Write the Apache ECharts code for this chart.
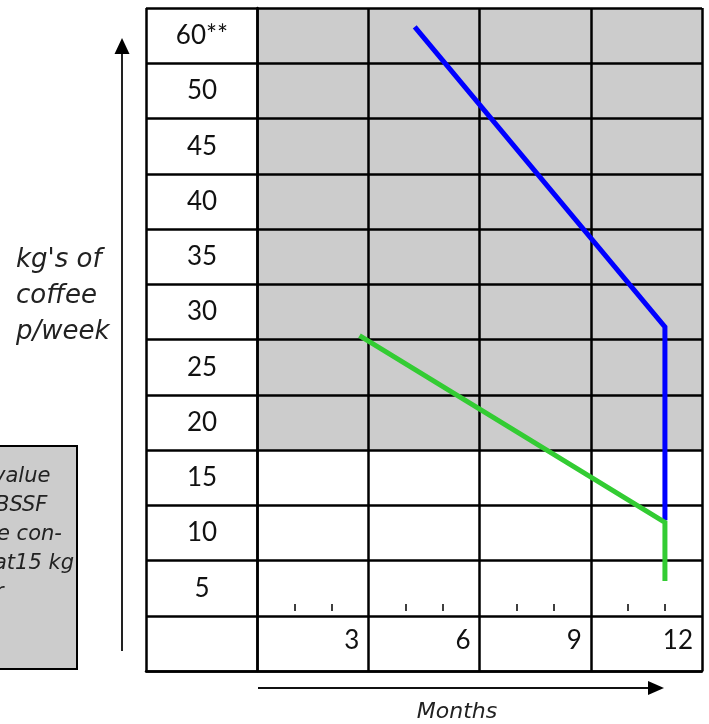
<!DOCTYPE html>
<html>
<head>
<meta charset="utf-8">
<script src="https://cdn.jsdelivr.net/npm/echarts@6/dist/echarts.min.js"></script>
<style>
  html, body { margin: 0; padding: 0; background: #ffffff; }
  #chart { width: 709px; height: 724px; }
</style>
</head>
<body>
<div id="chart"></div>
<script>
// ---- data (y values are in table-row units: row index from the bottom + fraction within the row) ----
const rowLabels = ['', '5', '10', '15', '20', '25', '30', '35', '40', '45', '50', '60**']; // bottom -> top
const monthLabels = [3, 6, 9, 12];
const minorMonthTicks = [1, 2, 4, 5, 7, 8, 10, 11];
const blueLine = [[4.25, 11.66], [11, 6.23], [11, 2.73]];
const greenLine = [[2.76, 6.07], [11, 2.69], [11, 1.63]];
const shadedFromLabel = '20';
const noteLines = ['value', 'BSSF', 'e con-', 'at15 kg', 'r'];
const yTitleLines = ["kg's of", 'coffee', 'p/week'];
const xTitle = 'Months';

const numFont = 'Lato';
const itFont = 'DejaVu Sans';
const black = '#000000';
const lw = 2.5;

const shadedFrom = rowLabels.indexOf(shadedFromLabel);

const chart = echarts.init(document.getElementById('chart'), null, { renderer: 'canvas' });

const noteGraphics = noteLines.map((t, i) => ({
  type: 'text', z: 10,
  style: { text: t, x: [-7, -5, -3, -6, -5][i], y: 477 + i * 29, fill: '#222', font: 'italic 21px "' + itFont + '"', verticalAlign: 'middle', textAlign: 'left' }
}));

const option = {
  backgroundColor: '#ffffff',
  animation: false,
  grid: { left: 146, top: 8, width: 556, height: 663, containLabel: false },
  xAxis: [
    {
      type: 'value', min: -3, max: 12, interval: 3, position: 'bottom', z: 3,
      axisLine: { show: true, onZero: false, lineStyle: { color: black, width: lw } },
      axisTick: { show: false },
      splitLine: { show: true, lineStyle: { color: black, width: lw } },
      axisLabel: {
        show: true, inside: true, margin: 30, align: 'right', verticalAlign: 'middle',
        padding: [0, 9, 0, 0], color: '#111', fontSize: 26, fontFamily: numFont,
        showMinLabel: false, showMaxLabel: true,
        formatter: v => (monthLabels.indexOf(v) >= 0 ? String(v) : '')
      }
    },
    {
      type: 'value', min: -3, max: 12, position: 'bottom', offset: -60, z: 3,
      axisLine: { show: false },
      axisLabel: { show: false },
      splitLine: { show: false },
      axisTick: { show: true, inside: true, length: 7, customValues: minorMonthTicks, lineStyle: { color: black, width: 1.5 } }
    }
  ],
  yAxis: [
    {
      type: 'category', data: rowLabels, boundaryGap: true, z: 3,
      axisLine: { show: true, lineStyle: { color: black, width: lw } },
      axisTick: { show: false },
      splitLine: { show: true, interval: 0, lineStyle: { color: black, width: lw } },
      axisLabel: {
        show: true, inside: true, interval: 0, margin: 56, align: 'center', verticalAlign: 'middle',
        color: '#111', fontSize: 26, fontFamily: numFont
      }
    },
    { type: 'value', min: 0, max: rowLabels.length, show: false }
  ],
  series: [
    {
      type: 'line', xAxisIndex: 0, yAxisIndex: 1, data: [], z: 1, silent: true,
      markArea: {
        silent: true,
        itemStyle: { color: '#cccccc' },
        data: [[{ xAxis: 0, yAxis: shadedFrom }, { xAxis: 12, yAxis: rowLabels.length }]]
      }
    },
    {
      name: 'blue', type: 'line', xAxisIndex: 0, yAxisIndex: 1, data: blueLine, z: 5,
      symbol: 'none', lineStyle: { color: '#0000ff', width: 5, cap: 'butt', join: 'miter' }
    },
    {
      name: 'green', type: 'line', xAxisIndex: 0, yAxisIndex: 1, data: greenLine, z: 5,
      symbol: 'none', lineStyle: { color: '#33cc33', width: 5, cap: 'butt', join: 'miter' }
    }
  ],
  graphic: [
    // vertical arrow
    { type: 'line', z: 10, shape: { x1: 122, y1: 651, x2: 122, y2: 52 }, style: { stroke: '#222', lineWidth: 2 } },
    { type: 'polygon', z: 10, shape: { points: [[114.5, 54], [129.5, 54], [122, 38]] }, style: { fill: '#000' } },
    // horizontal arrow
    { type: 'line', z: 10, shape: { x1: 258, y1: 688, x2: 650, y2: 688 }, style: { stroke: '#111', lineWidth: 2 } },
    { type: 'polygon', z: 10, shape: { points: [[648, 681], [648, 695], [664, 688]] }, style: { fill: '#000' } },
    // y title
    {
      type: 'text', z: 10,
      style: { text: yTitleLines.join('\n'), x: 16, y: 296, lineHeight: 36, fill: '#222', font: 'italic 26px "' + itFont + '"', verticalAlign: 'middle', textAlign: 'left' }
    },
    // x title
    {
      type: 'text', z: 10,
      style: { text: xTitle, x: 457, y: 712, fill: '#222', font: 'italic 22px "' + itFont + '"', verticalAlign: 'middle', textAlign: 'center' }
    },
    // note box (clipped by page edge)
    { type: 'rect', z: 9, shape: { x: -20, y: 446, width: 97, height: 223 }, style: { fill: '#cccccc', stroke: '#000', lineWidth: 2 } }
  ].concat(noteGraphics)
};

chart.setOption(option);
</script>
</body>
</html>
